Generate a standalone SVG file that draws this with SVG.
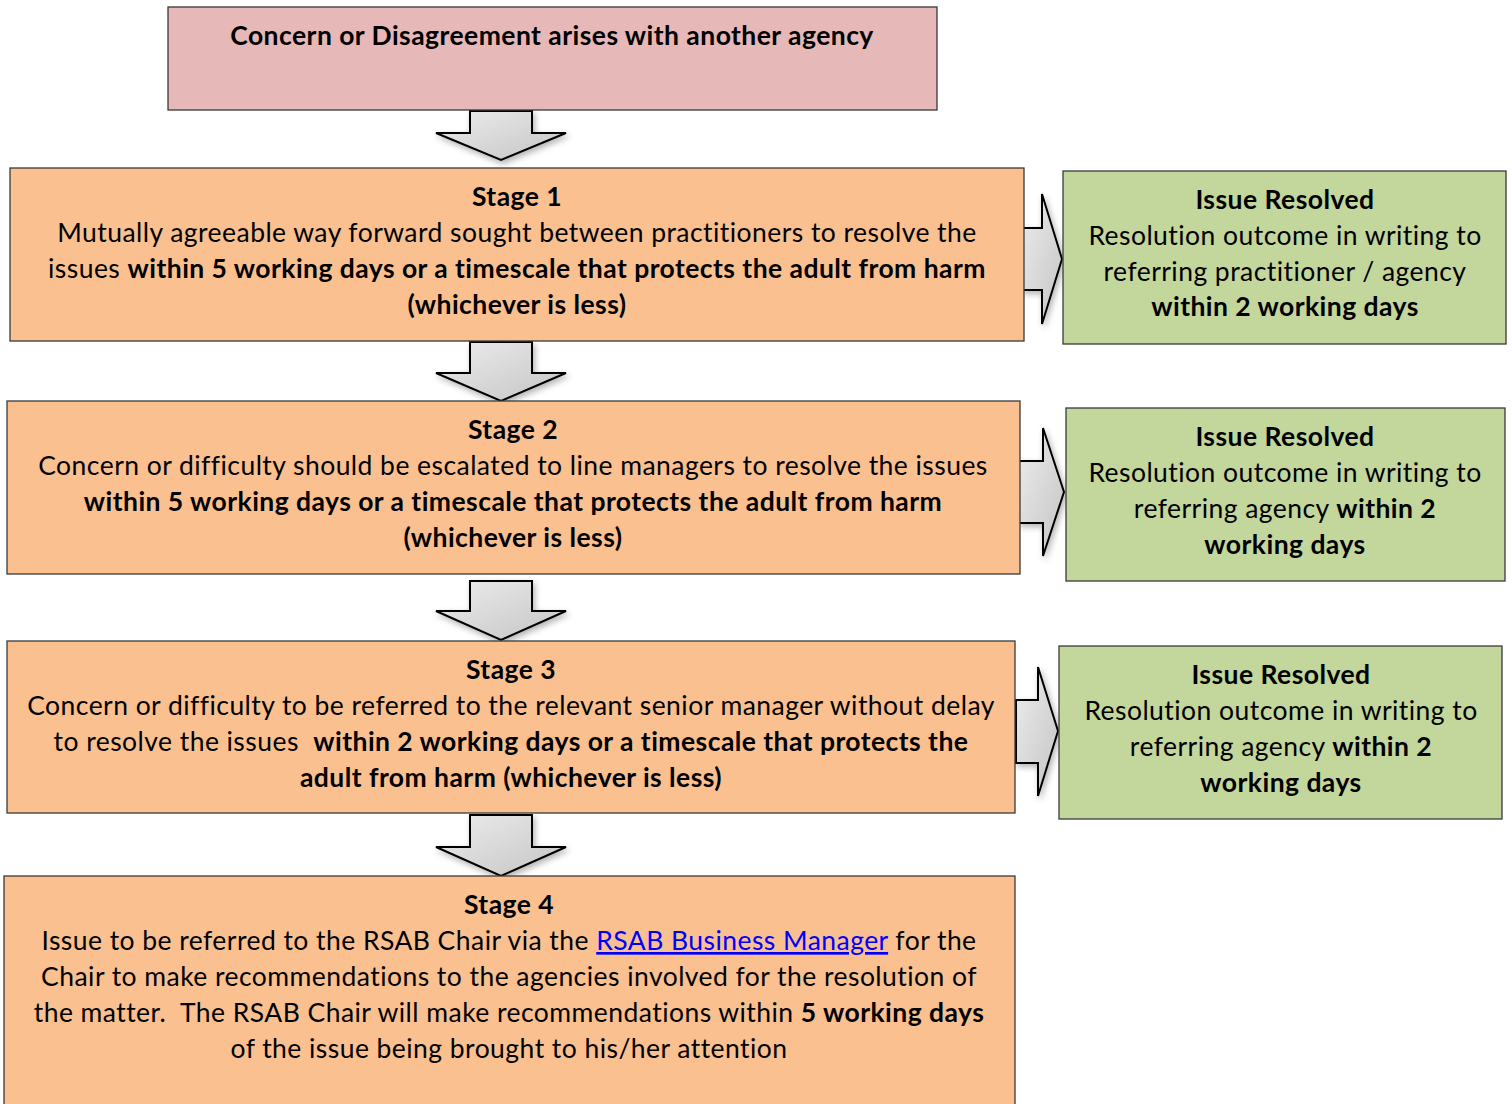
<svg xmlns="http://www.w3.org/2000/svg" width="1512" height="1104" viewBox="0 0 1512 1104">
<style>
.box{stroke:#3a3a3a;stroke-width:1.3}
.pink{fill:#E6B8B7}
.orange{fill:#FAC090}
.green{fill:#C3D69B}
text{font-family:Lato,"Liberation Sans",sans-serif;font-size:26.5px;letter-spacing:0.45px;fill:#000;text-anchor:middle;white-space:pre}
.b{font-weight:bold}
.link{fill:#0000FF;text-decoration:underline}
.arrow{fill:url(#g);stroke:#000;stroke-width:2;stroke-linejoin:miter}
</style>
<defs>
<linearGradient id="g" x1="0" y1="0" x2="1" y2="1">
<stop offset="0" stop-color="#EDEDED"/>
<stop offset="1" stop-color="#C4C4C4"/>
</linearGradient>
<filter id="sh" x="-20%" y="-20%" width="140%" height="140%">
<feDropShadow dx="2" dy="3" stdDeviation="3" flood-color="#000" flood-opacity="0.3"/>
</filter>
</defs>
<rect width="1512" height="1104" fill="#fff"/>

<g id="connectors">
<path class="arrow" filter="url(#sh)" d="M470,111 H532 V133 H566 L501,160 L436,133 H470 Z"/>
<path class="arrow" filter="url(#sh)" d="M470,342 H532 V373 H566 L501,401 L436,373 H470 Z"/>
<path class="arrow" filter="url(#sh)" d="M470,581 H532 V611 H566 L501,640 L436,611 H470 Z"/>
<path class="arrow" filter="url(#sh)" d="M470,815 H532 V847 H566 L501,876 L436,847 H470 Z"/>
<path class="arrow" filter="url(#sh)" d="M1022,228 H1042 V194 L1062,259 L1042,324 V290 H1022 Z"/>
<path class="arrow" filter="url(#sh)" d="M1019,461 H1043 V428 L1064,492 L1043,556 V523 H1019 Z"/>
<path class="arrow" filter="url(#sh)" d="M1016,700 H1038 V667 L1058,731 L1038,796 V763 H1016 Z"/>
</g>

<g id="start">
<rect class="box pink" x="168" y="7" width="769" height="103"/>
<text class="b" x="552" y="45">Concern or Disagreement arises with another agency</text>
</g>

<g id="stage1">
<rect class="box orange" x="10" y="168" width="1014" height="173"/>
<text x="517" y="206"><tspan class="b">Stage 1</tspan></text>
<text x="517" y="242">Mutually agreeable way forward sought between practitioners to resolve the</text>
<text x="517" y="278">issues <tspan class="b">within 5 working days or a timescale that protects the adult from harm</tspan></text>
<text x="517" y="314" class="b">(whichever is less)</text>
</g>

<g id="resolved1">
<rect class="box green" x="1063" y="171" width="443" height="173"/>
<text x="1285" y="209" class="b">Issue Resolved</text>
<text x="1285" y="245">Resolution outcome in writing to</text>
<text x="1285" y="281">referring practitioner / agency</text>
<text x="1285" y="316" class="b">within 2 working days</text>
</g>

<g id="stage2">
<rect class="box orange" x="7" y="401" width="1013" height="173"/>
<text x="513" y="439" class="b">Stage 2</text>
<text x="513" y="475">Concern or difficulty should be escalated to line managers to resolve the issues</text>
<text x="513" y="511" class="b">within 5 working days or a timescale that protects the adult from harm</text>
<text x="513" y="547" class="b">(whichever is less)</text>
</g>

<g id="resolved2">
<rect class="box green" x="1066" y="408" width="439" height="173"/>
<text x="1285" y="446" class="b">Issue Resolved</text>
<text x="1285" y="482">Resolution outcome in writing to</text>
<text x="1285" y="518">referring agency <tspan class="b">within 2</tspan></text>
<text x="1285" y="554" class="b">working days</text>
</g>

<g id="stage3">
<rect class="box orange" x="7" y="641" width="1008" height="172"/>
<text x="511" y="679" class="b">Stage 3</text>
<text x="511" y="715">Concern or difficulty to be referred to the relevant senior manager without delay</text>
<text x="511" y="751">to resolve the issues  <tspan class="b">within 2 working days or a timescale that protects the</tspan></text>
<text x="511" y="787" class="b">adult from harm (whichever is less)</text>
</g>

<g id="resolved3">
<rect class="box green" x="1059" y="646" width="443" height="173"/>
<text x="1281" y="684" class="b">Issue Resolved</text>
<text x="1281" y="720">Resolution outcome in writing to</text>
<text x="1281" y="756">referring agency <tspan class="b">within 2</tspan></text>
<text x="1281" y="792" class="b">working days</text>
</g>

<g id="stage4">
<rect class="box orange" x="4" y="876" width="1011" height="240"/>
<text x="509" y="914" class="b">Stage 4</text>
<text x="509" y="950">Issue to be referred to the RSAB Chair via the <tspan class="link">RSAB Business Manager</tspan> for the</text>
<text x="509" y="986">Chair to make recommendations to the agencies involved for the resolution of</text>
<text x="509" y="1022">the matter.  The RSAB Chair will make recommendations within <tspan class="b">5 working days</tspan></text>
<text x="509" y="1058">of the issue being brought to his/her attention</text>
</g>
</svg>
